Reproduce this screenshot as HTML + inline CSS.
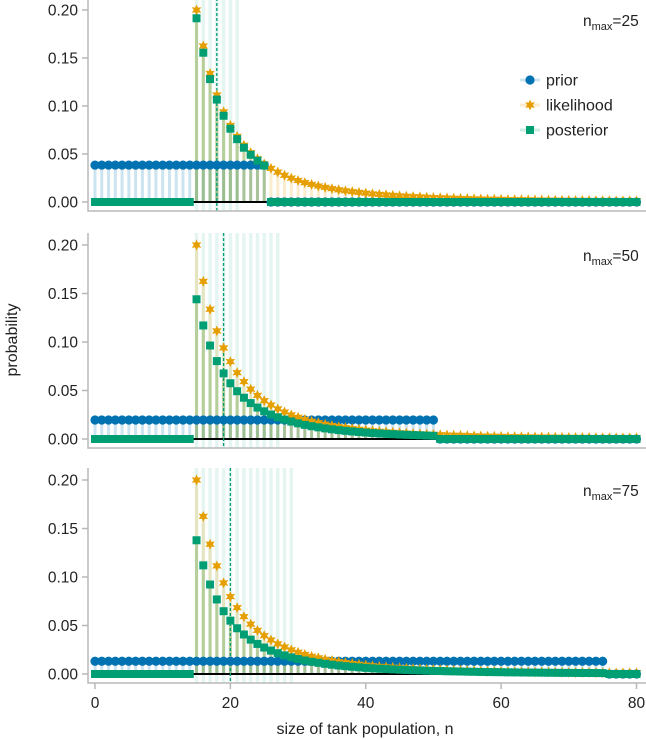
<!DOCTYPE html>
<html><head><meta charset="utf-8"><style>
body{margin:0;background:#fff;}
svg{display:block;font-family:"Liberation Sans","DejaVu Sans",sans-serif;}
</style></head><body>
<svg id="chart" width="646" height="740" viewBox="0 0 646 740" xmlns="http://www.w3.org/2000/svg"></svg>
<script>
// ---- data ----
const nValues = [];
for (let i = 0; i <= 80; i++) nValues.push(i);
const likelihoodTail = [0.2,0.1625,0.1338,0.1115,0.0939,0.0798,0.0684,0.0591,0.0514,0.045,0.0396,0.035,0.0311,0.0278,0.0249,0.0224,0.0202,0.0183,0.0167,0.0152,0.0139,0.0127,0.0117,0.0108,0.01,0.0092,0.0085,0.0079,0.0074,0.0069,0.0064,0.006,0.0056,0.0053,0.0049,0.0046,0.0044,0.0041,0.0039,0.0037,0.0035,0.0033,0.0031,0.0029,0.0028,0.0027,0.0025,0.0024,0.0023,0.0022,0.0021,0.002,0.0019,0.0018,0.0017,0.0017,0.0016,0.0015,0.0015,0.0014,0.0013,0.0013,0.0012,0.0012,0.0012,0.0011];
const likelihoodStart = 15;
const nMaxValues = [25, 50, 75];
const ciUpper = [21, 27, 29];
const yTicks = [0, 0.05, 0.10, 0.15, 0.20];
const yTickLabels = ["0.00","0.05","0.10","0.15","0.20"];
const xTicks = [0, 20, 40, 60, 80];
const legendLabels = ["prior","likelihood","posterior"];

const BLUE="#0072B2", ORANGE="#E69F00", GREEN="#009E73";
const svg = document.getElementById('chart');
const NS = "http://www.w3.org/2000/svg";
function mk(tag, attrs, parent){const e=document.createElementNS(NS,tag);for(const k in attrs)e.setAttribute(k,attrs[k]);(parent||svg).appendChild(e);return e;}

const X0 = 95, XS = (636.5-95)/80;
const xScale = n => X0 + n*XS;
const panels = [
  {y0:202, y02:10, top:-2, bottom:211},
  {y0:439, y02:245, top:233, bottom:448},
  {y0:674, y02:480, top:468, bottom:683}
];

const likelihood = nValues.map(n => n < likelihoodStart ? 0 : (likelihoodTail[n-likelihoodStart] || 0));

function star(cx, cy, r, parent){
  let pts=[];
  for(let i=0;i<12;i++){const a=-Math.PI/2+i*Math.PI/6;const rr=i%2===0?r:r*0.5;pts.push((cx+rr*Math.cos(a)).toFixed(2)+","+(cy+rr*Math.sin(a)).toFixed(2));}
  return mk('polygon',{points:pts.join(' '),fill:ORANGE},parent);
}

panels.forEach((p, pi) => {
  const nmax = nMaxValues[pi];
  const yScale = v => p.y0 - v*(p.y0-p.y02)/0.2;
  const g = mk('g',{});
  
  
  const prior = nValues.map(n => n <= nmax ? 1/(nmax+1) : 0);
  const unnorm = nValues.map((n,i) => prior[i]*likelihood[i]);
  const Z = unnorm.reduce((a,b)=>a+b,0);
  const posterior = unnorm.map(v => v/Z);
  let cum = 0, median = 0;
  for (let i = 0; i < nValues.length; i++) { cum += posterior[i]; if (cum >= 0.5) { median = nValues[i]; break; } }

  for (let n = likelihoodStart; n <= ciUpper[pi]; n++) {
    const l = mk('line',{x1:xScale(n),x2:xScale(n),y1:p.top,y2:p.bottom,stroke:GREEN,'stroke-opacity':0.1,'stroke-width':3.5},g);
    
    
  }
  nValues.forEach((n,i)=>{
    if(prior[i]>0){const s=mk('line',{x1:xScale(n),x2:xScale(n),y1:p.y0,y2:yScale(prior[i]),stroke:BLUE,'stroke-opacity':0.2,'stroke-width':3},g);
      }
    if(likelihood[i]>0){const s=mk('line',{x1:xScale(n),x2:xScale(n),y1:p.y0,y2:yScale(likelihood[i]),stroke:ORANGE,'stroke-opacity':0.2,'stroke-width':3},g);
      }
    if(posterior[i]>0){const s=mk('line',{x1:xScale(n),x2:xScale(n),y1:p.y0,y2:yScale(posterior[i]),stroke:'#4a9a40','stroke-opacity':0.3,'stroke-width':3},g);
      }
  });
  const zl = mk('line',{x1:xScale(0),x2:xScale(80),y1:p.y0,y2:p.y0,stroke:'#000','stroke-width':2},g);
  
  const ml = mk('line',{x1:xScale(median),x2:xScale(median),y1:p.top,y2:p.bottom,stroke:GREEN,'stroke-width':1.3,'stroke-dasharray':'3,2'},g);
  
  nValues.forEach((n,i)=>{
    const c = mk('circle',{cx:xScale(n),cy:yScale(prior[i]),r:4.6,fill:BLUE},g);
    
  });
  nValues.forEach((n,i)=>{
    const s = star(xScale(n), yScale(likelihood[i]), likelihood[i]>0?5.5:3.5, g);
    
  });
  nValues.forEach((n,i)=>{
    const r = mk('rect',{x:xScale(n)-4,y:yScale(posterior[i])-4,width:8,height:8,fill:GREEN},g);
    
  });
  const ax = mk('path',{d:`M88,${Math.max(p.top,0)} V${p.bottom} H646`,fill:'none',stroke:'#b8b8b8','stroke-width':1.5},g);
  
  yTicks.forEach((v,k)=>{
    mk('line',{x1:82,x2:88,y1:yScale(v),y2:yScale(v),stroke:'#b8b8b8','stroke-width':1.5},g);
    const t = mk('text',{x:78,y:yScale(v)+5.5,'text-anchor':'end','font-size':15.5,fill:'#222'},g);
    t.textContent = yTickLabels[k];
    
  });
  const lab = mk('text',{x:583,y:p.y02+16,'font-size':15.5,fill:'#222'},g);
  
  lab.innerHTML = 'n<tspan font-size="11" dy="4">max</tspan><tspan dy="-4">='+nmax+'</tspan>';
});

xTicks.forEach(v=>{
  mk('line',{x1:xScale(v),x2:xScale(v),y1:683,y2:689,stroke:'#b8b8b8','stroke-width':1.5});
  const t = mk('text',{x:xScale(v),y:708,'text-anchor':'middle','font-size':15.5,fill:'#222'});
  t.textContent = v;
  
});
const xt = mk('text',{x:365,y:734,'text-anchor':'middle','font-size':16,fill:'#222'});
xt.textContent='size of tank population, n';

const yt = mk('text',{x:0,y:0,'text-anchor':'middle','font-size':16,fill:'#222',transform:'translate(17,340) rotate(-90)'});
yt.textContent='probability';


const legColors=[BLUE,ORANGE,GREEN];
legendLabels.forEach((lbl,k)=>{
  const y = 80 + k*25;
  const g = mk('g',{});
  
  mk('line',{x1:520,x2:540,y1:y,y2:y,stroke:legColors[k],'stroke-opacity':0.2,'stroke-width':3},g);
  if(k===0) mk('circle',{cx:530,cy:y,r:4.6,fill:BLUE},g);
  if(k===1) star(530,y,5.5,g);
  if(k===2) mk('rect',{x:526,y:y-4,width:8,height:8,fill:GREEN},g);
  const t = mk('text',{x:546,y:y+5.5,'font-size':16,fill:'#222'},g);
  t.textContent = lbl;
});
</script>
</body></html>
